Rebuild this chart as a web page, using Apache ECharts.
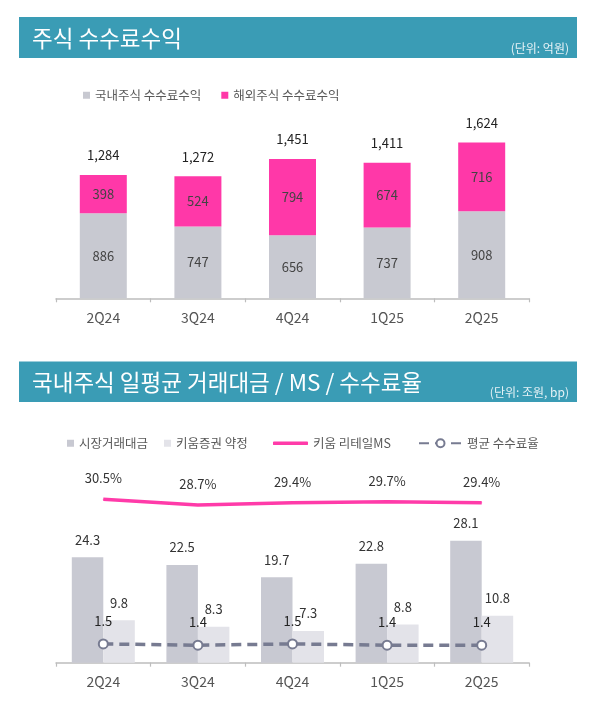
<!DOCTYPE html>
<html><head><meta charset="utf-8">
<script src="https://cdn.jsdelivr.net/npm/echarts@6/dist/echarts.min.js"></script>
<style>html,body{margin:0;padding:0;background:#fff}#c{width:595px;height:708px}</style>
</head><body><div id="c"></div>
<script>
const quarters = ['2Q24','3Q24','4Q24','1Q25','2Q25'];
const domesticFee = [886,747,656,737,908];
const overseasFee = [398,524,794,674,716];
const totalFee = [1284,1272,1451,1411,1624];
const marketTurnover = [24.3,22.5,19.7,22.8,28.1];
const kiwoomVolume = [9.8,8.3,7.3,8.8,10.8];
const retailMS = [30.5,28.7,29.4,29.7,29.4];
const avgFeeRate = [1.5,1.4,1.5,1.4,1.4];

const FONT = '"Noto Sans CJK KR", "Noto Sans", sans-serif';
const TEAL = '#3A9CB5';
const chart = echarts.init(document.getElementById('c'));
const catAxis = (gi) => ({
  gridIndex: gi, type: 'category', data: quarters,
  axisLine: {lineStyle: {color: '#bdbdbd', width: 1.5}},
  axisTick: {show: true, length: 4, lineStyle: {color: '#bdbdbd', width: 1.2}},
  axisLabel: {color: '#555', fontSize: 14, margin: 12, fontFamily: FONT}
});
const legendText = {color: '#595959', fontSize: 12.5, fontFamily: FONT};
const fmt1 = p => Number(p.value).toFixed(1);

chart.setOption({
  animation: false,
  textStyle: {fontFamily: FONT},
  graphic: [
    {type: 'rect', shape: {x: 19, y: 17, width: 558, height: 41}, style: {fill: TEAL}},
    {type: 'text', x: 32, y: 38, style: {text: '주식 수수료수익', fill: '#fff', fontSize: 22.5, fontFamily: FONT, verticalAlign: 'middle'}},
    {type: 'text', x: 569, y: 48, style: {text: '(단위: 억원)', fill: '#e6f2f6', fontSize: 12, fontFamily: FONT, align: 'right', verticalAlign: 'middle'}},
    {type: 'rect', shape: {x: 19, y: 361.5, width: 558, height: 40.5}, style: {fill: TEAL}},
    {type: 'text', x: 32, y: 382, style: {text: '국내주식 일평균 거래대금 / MS / 수수료율', fill: '#fff', fontSize: 22.5, fontFamily: FONT, verticalAlign: 'middle'}},
    {type: 'text', x: 569, y: 392, style: {text: '(단위: 조원, bp)', fill: '#e6f2f6', fontSize: 12, fontFamily: FONT, align: 'right', verticalAlign: 'middle'}}
  ],
  legend: [
    {data: ['국내주식 수수료수익', '해외주식 수수료수익'], left: 83, top: 89, padding: 0,
     icon: 'rect', itemWidth: 7, itemHeight: 7, itemGap: 20, textStyle: legendText},
    {data: ['시장거래대금', '키움증권 약정'], left: 67, top: 437, padding: 0,
     icon: 'rect', itemWidth: 7, itemHeight: 7, itemGap: 16, textStyle: legendText},
    {data: ['키움 리테일MS'], left: 273, top: 437, padding: 0,
     icon: 'roundRect', itemWidth: 35, itemHeight: 3.5, textStyle: legendText},
    {data: ['평균 수수료율'], left: 418, top: 437, padding: 0,
     itemWidth: 43, itemHeight: 10, textStyle: legendText}
  ],
  grid: [
    {left: 56, width: 473, top: 106.3, height: 192},
    {left: 56, width: 473, top: 510.8, height: 151.9},
    {left: 56, width: 473, top: 469.2, height: 63.4}
  ],
  xAxis: [catAxis(0), catAxis(1), {gridIndex: 2, type: 'category', data: quarters, show: false}],
  yAxis: [
    {gridIndex: 0, min: 0, max: 2000, show: false},
    {gridIndex: 1, min: 0, max: 35, show: false},
    {gridIndex: 1, min: 0, max: 12.15, show: false},
    {gridIndex: 2, min: 20, max: 40, show: false}
  ],
  series: [
    {name: '국내주식 수수료수익', type: 'bar', stack: 'fee', xAxisIndex: 0, yAxisIndex: 0, data: domesticFee,
     barWidth: 47, itemStyle: {color: '#C8C9D1'},
     label: {show: true, position: 'inside', color: '#444', fontSize: 13}},
    {name: '해외주식 수수료수익', type: 'bar', stack: 'fee', xAxisIndex: 0, yAxisIndex: 0, data: overseasFee,
     barWidth: 47, itemStyle: {color: '#FF38A8'},
     label: {show: true, position: 'inside', color: '#444', fontSize: 13}},
    {name: '합계', type: 'bar', xAxisIndex: 0, yAxisIndex: 0, data: totalFee, barWidth: 47, barGap: '-100%',
     itemStyle: {color: 'rgba(0,0,0,0)'}, silent: true, z: 1,
     label: {show: true, position: 'top', distance: 13, color: '#222', fontSize: 13,
             formatter: p => Number(p.value).toLocaleString('en-US')}},
    {name: '시장거래대금', type: 'bar', xAxisIndex: 1, yAxisIndex: 1, data: marketTurnover,
     barWidth: 31.5, itemStyle: {color: '#C8C9D2'},
     label: {show: true, position: 'top', distance: 11, color: '#333', fontSize: 13, formatter: fmt1}},
    {name: '키움증권 약정', type: 'bar', xAxisIndex: 1, yAxisIndex: 1, data: kiwoomVolume,
     barWidth: 31.5, barGap: 0, itemStyle: {color: '#E3E3E9'},
     label: {show: true, position: 'top', distance: 11, color: '#333', fontSize: 13, formatter: fmt1}},
    {name: '평균 수수료율', type: 'line', xAxisIndex: 1, yAxisIndex: 2, data: avgFeeRate, z: 5,
     symbol: 'emptyCircle', symbolSize: 9,
     lineStyle: {color: '#777B91', width: 3.5, type: [10, 6]},
     itemStyle: {color: '#777B91', borderWidth: 2.5},
     label: {show: true, position: 'top', distance: 11, color: '#222', fontSize: 13, formatter: fmt1}},
    {name: '키움 리테일MS', type: 'line', xAxisIndex: 2, yAxisIndex: 3, data: retailMS,
     symbol: 'circle', symbolSize: 1,
     lineStyle: {color: '#FF3BA9', width: 3.5}, itemStyle: {color: '#FF3BA9'},
     label: {show: true, position: 'top', distance: 14, color: '#333', fontSize: 13,
             formatter: p => Number(p.value).toFixed(1) + '%'}}
  ]
});
</script></body></html>
